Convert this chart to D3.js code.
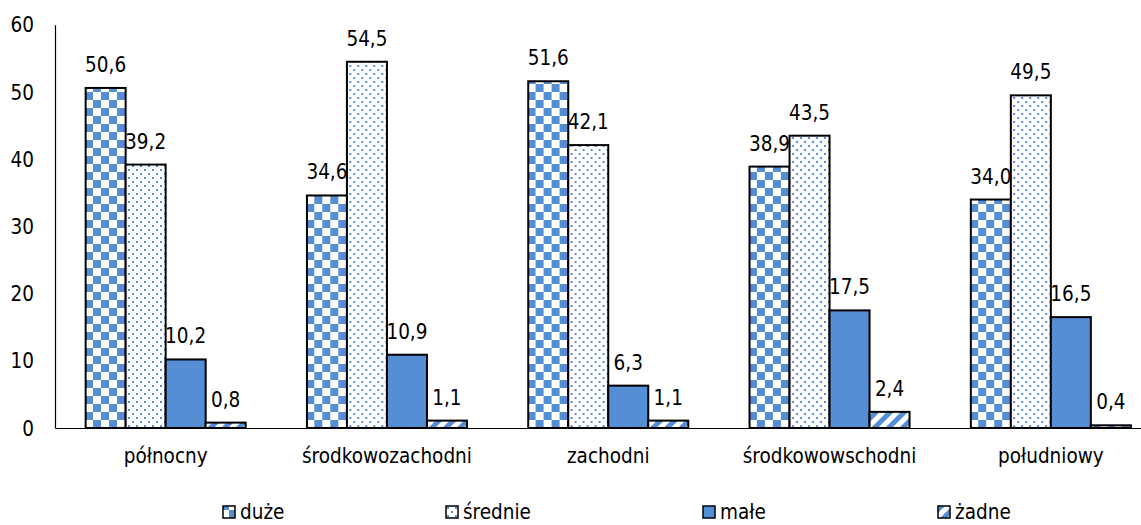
<!DOCTYPE html>
<html>
<head>
<meta charset="utf-8">
<script src="https://cdn.jsdelivr.net/npm/d3@7"></script>
<style>
  html, body { margin: 0; padding: 0; background: #fff; }
  svg { display: block; }
  text { font-family: "DejaVu Sans Condensed", "DejaVu Sans", sans-serif; fill: #000; }
</style>
</head>
<body>
<svg id="chart" width="1141" height="525"></svg>
<script>
const categories = ["północny", "środkowozachodni", "zachodni", "środkowowschodni", "południowy"];
const seriesNames = ["duże", "średnie", "małe", "żadne"];
const duze    = [50.6, 34.6, 51.6, 38.9, 34.0];
const srednie = [39.2, 54.5, 42.1, 43.5, 49.5];
const male    = [10.2, 10.9, 6.3, 17.5, 16.5];
const zadne   = [0.8, 1.1, 1.1, 2.4, 0.4];
const yTicks  = [0, 10, 20, 30, 40, 50, 60];

const seriesValues = [duze, srednie, male, zadne];
const blue = "#558ED5";

const svg = d3.select("#chart");
const defs = svg.append("defs");

// checkerboard
const pc = defs.append("pattern").attr("id", "p0").attr("patternUnits", "userSpaceOnUse")
  .attr("width", 16).attr("height", 16).attr("x", 86).attr("y", 4);
pc.append("rect").attr("width", 16).attr("height", 16).attr("fill", "#fff");
pc.append("rect").attr("width", 8).attr("height", 8).attr("fill", blue);
pc.append("rect").attr("x", 8).attr("y", 8).attr("width", 8).attr("height", 8).attr("fill", blue);

// dots
const pd = defs.append("pattern").attr("id", "p1").attr("patternUnits", "userSpaceOnUse")
  .attr("width", 8).attr("height", 8);
pd.append("rect").attr("width", 8).attr("height", 8).attr("fill", "#fff");
pd.append("rect").attr("x", 1).attr("y", 1).attr("width", 2).attr("height", 2).attr("fill", blue);
pd.append("rect").attr("x", 5).attr("y", 5).attr("width", 2).attr("height", 2).attr("fill", blue);

// diagonal stripes
const ps = defs.append("pattern").attr("id", "p3").attr("patternUnits", "userSpaceOnUse")
  .attr("width", 10).attr("height", 10).attr("patternTransform", "rotate(45)");
ps.append("rect").attr("width", 10).attr("height", 10).attr("fill", "#fff");
ps.append("rect").attr("width", 5).attr("height", 10).attr("fill", blue);

const fills = ["url(#p0)", "url(#p1)", blue, "url(#p3)"];

const x0 = d3.scaleBand().domain(categories).range([55, 1161.5]).paddingInner(0).paddingOuter(0);
const x1 = d3.scaleBand().domain(seriesNames).range([0, x0.bandwidth()]).paddingInner(0).paddingOuter(0.766);
const y = d3.scaleLinear().domain([0, 60]).range([428, 24.8]);

const fmt = v => d3.format(".1f")(v).replace(".", ",");
const fs = "20.5px";

// y axis
const yAxis = svg.append("g").attr("transform", "translate(55,0)")
  .call(d3.axisLeft(y).tickValues(yTicks).tickSize(0).tickPadding(21).tickFormat(d3.format("d")));
yAxis.select(".domain").attr("stroke", "#000").attr("stroke-width", 1.2);
yAxis.selectAll("text").style("font-size", fs).attr("dy", "0.35em");

// x axis
const xAxis = svg.append("g").attr("transform", "translate(0,428)")
  .call(d3.axisBottom(x0).tickSize(0).tickPadding(20));
xAxis.select(".domain").attr("stroke", "#000").attr("stroke-width", 1.2);
xAxis.selectAll("text").style("font-size", fs).attr("dy", "0.71em");

// bars
const groups = svg.append("g").selectAll("g").data(categories).join("g")
  .attr("transform", d => `translate(${x0(d)},0)`);

seriesNames.forEach((s, si) => {
  groups.append("rect")
    .attr("x", (d, i) => x1(s))
    .attr("y", (d, i) => y(seriesValues[si][i]))
    .attr("width", x1.bandwidth())
    .attr("height", (d, i) => y(0) - y(seriesValues[si][i]))
    .attr("fill", fills[si])
    .attr("stroke", "#000")
    .attr("stroke-width", 2);
  groups.append("text")
    .attr("x", (d, i) => x1(s) + x1.bandwidth() / 2)
    .attr("y", (d, i) => y(seriesValues[si][i]) - 16)
    .attr("text-anchor", "middle")
    .style("font-size", fs)
    .text((d, i) => fmt(seriesValues[si][i]));
});

// legend
const legendX = [223, 446, 703, 938];
const lg = svg.append("g").selectAll("g").data(seriesNames).join("g")
  .attr("transform", (d, i) => `translate(${legendX[i]},506)`);
lg.append("rect").attr("width", 12).attr("height", 12)
  .attr("fill", (d, i) => fills[i]).attr("stroke", "#000").attr("stroke-width", 1.5);
lg.append("text").attr("x", 17).attr("y", 13).style("font-size", fs).text(d => d);
</script>
</body>
</html>
